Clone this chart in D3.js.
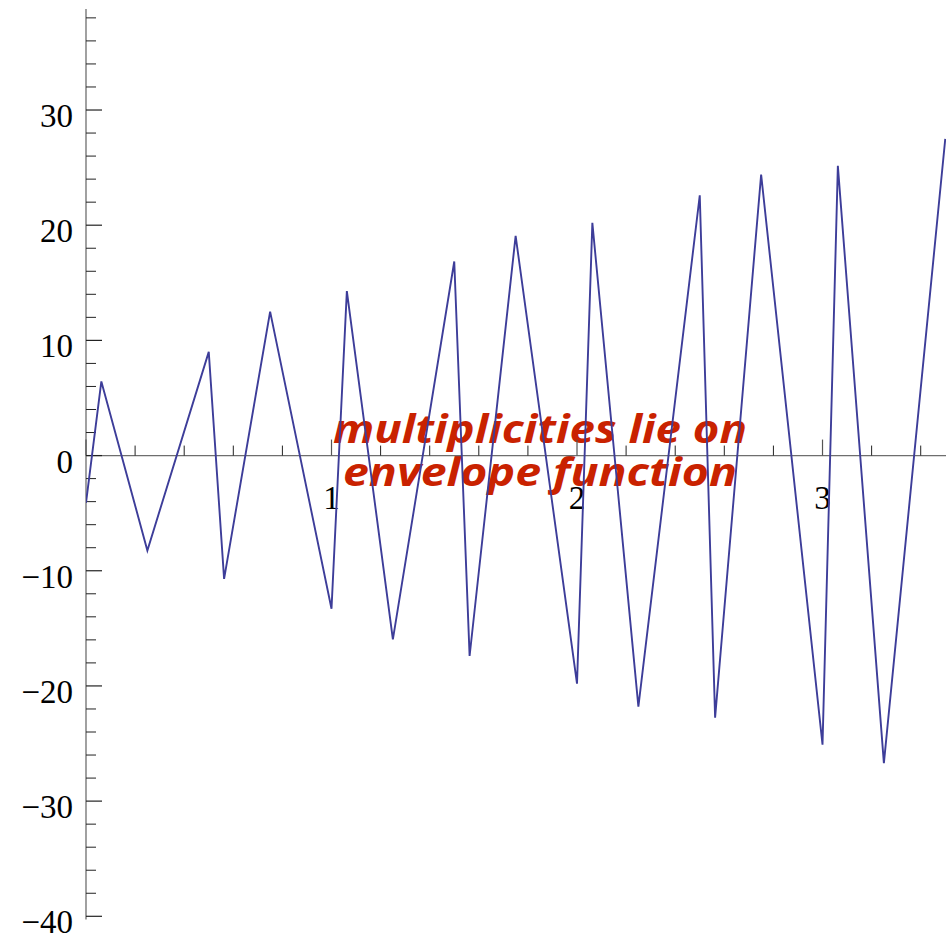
<!DOCTYPE html>
<html><head><meta charset="utf-8">
<script src="https://cdn.jsdelivr.net/npm/d3@7"></script>
<style>body{margin:0;background:#fff}svg{display:block}</style>
</head><body>
<script>
const xs = [0, 0.0625, 0.25, 0.5, 0.5625, 0.75, 1, 1.0625, 1.25, 1.5, 1.5625, 1.75, 2, 2.0625, 2.25, 2.5, 2.5625, 2.75, 3, 3.0625, 3.25, 3.5];
const ys = [-4.1, 6.44, -8.24, 9.0, -10.7, 12.5, -13.3, 14.28, -15.96, 16.85, -17.4, 19.08, -19.8, 20.2, -21.8, 22.6, -22.75, 24.4, -25.1, 25.15, -26.7, 27.5];
const xMajor = [0, 1, 2, 3];
const xLabels = [1, 2, 3];
const yMajor = [-40, -30, -20, -10, 0, 10, 20, 30];
const annotation = ["multiplicities lie on", "envelope function"];

const W = 946, H = 934;
const svg = d3.select("body").append("svg").attr("width", W).attr("height", H);
const x = d3.scaleLinear().domain([0, 3.503]).range([86, 946]);
const y = d3.scaleLinear().domain([-40, 38.77]).range([916.3, 9]);

const fmt = v => (v < 0 ? "\u2212" + Math.abs(v) : String(v));

// annotation text (under curve)
const lineInfo = [{b: 443, w: 414}, {b: 486, w: 394}];
svg.append("g").selectAll("text").data(annotation).join("text")
  .attr("x", 540).attr("y", (d, i) => lineInfo[i].b)
  .attr("text-anchor", "middle")
  .attr("textLength", (d, i) => lineInfo[i].w)
  .attr("lengthAdjust", "spacingAndGlyphs")
  .attr("font-family", "'Open Sans', Lato, sans-serif")
  .attr("font-style", "italic").attr("font-weight", "bold")
  .attr("font-size", 40).attr("fill", "#c92200")
  .text(d => d);

// axes
const ax = svg.append("g");
ax.append("line").attr("x1", x(0)).attr("x2", W).attr("y1", y(0)).attr("y2", y(0))
  .attr("stroke", "#6e6e6e").attr("stroke-width", 1.3);
ax.append("line").attr("x1", x(0)).attr("x2", x(0)).attr("y1", 9).attr("y2", 919.5)
  .attr("stroke", "#6e6e6e").attr("stroke-width", 1.3);

const xMinor = d3.range(0, 3.5, 0.2).map(v => +v.toFixed(2)).filter(v => !xMajor.some(m => Math.abs(m - v) < 1e-6));
ax.selectAll(".xmin").data(xMinor).join("line")
  .attr("x1", d => x(d)).attr("x2", d => x(d)).attr("y1", y(0)).attr("y2", y(0) - 10)
  .attr("stroke", "#222").attr("stroke-width", 1);
ax.selectAll(".xmaj").data(xMajor).join("line")
  .attr("x1", d => x(d)).attr("x2", d => x(d)).attr("y1", y(0)).attr("y2", y(0) - 16)
  .attr("stroke", "#555").attr("stroke-width", 1.2);

const yMinor = d3.range(-40, 39, 2).filter(v => v % 10 !== 0);
ax.selectAll(".ymin").data(yMinor).join("line")
  .attr("x1", x(0)).attr("x2", x(0) + 10).attr("y1", d => y(d)).attr("y2", d => y(d))
  .attr("stroke", "#222").attr("stroke-width", 1);
ax.selectAll(".ymaj").data(yMajor).join("line")
  .attr("x1", x(0)).attr("x2", x(0) + 16).attr("y1", d => y(d)).attr("y2", d => y(d))
  .attr("stroke", "#222").attr("stroke-width", 1.2);

ax.selectAll(".ylab").data(yMajor).join("text")
  .attr("x", 73).attr("y", d => y(d) + 17)
  .attr("text-anchor", "end")
  .attr("font-family", "'Liberation Serif', 'Times New Roman', serif")
  .attr("font-size", 33).attr("fill", "#000")
  .text(fmt);
ax.selectAll(".xlab").data(xLabels).join("text")
  .attr("x", d => x(d)).attr("y", 509)
  .attr("text-anchor", "middle")
  .attr("font-family", "'Liberation Serif', 'Times New Roman', serif")
  .attr("font-size", 33).attr("fill", "#000")
  .text(fmt);

// curve
svg.append("clipPath").attr("id", "clip").append("rect")
  .attr("x", 86).attr("y", 0).attr("width", W - 86).attr("height", H);
const pts = xs.map((v, i) => [v, ys[i]]);
svg.append("path").datum(pts)
  .attr("clip-path", "url(#clip)")
  .attr("d", d3.line().x(d => x(d[0])).y(d => y(d[1])))
  .attr("fill", "none").attr("stroke", "#3d3d99").attr("stroke-width", 1.9)
  .attr("stroke-linejoin", "miter");
</script>
</body></html>
